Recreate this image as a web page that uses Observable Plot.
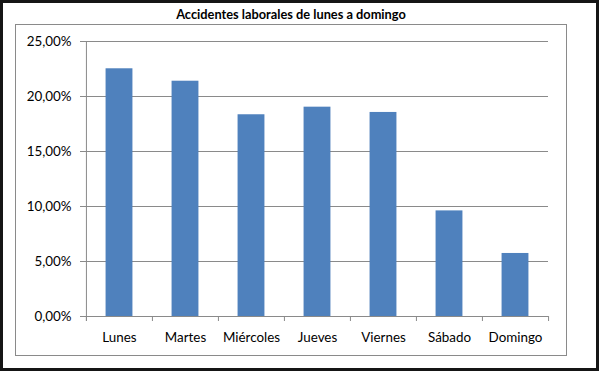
<!DOCTYPE html>
<html><head><meta charset="utf-8">
<script src="https://cdn.jsdelivr.net/npm/d3@7"></script>
<script src="https://cdn.jsdelivr.net/npm/@observablehq/plot@0.6"></script>
<style>
html,body{margin:0;padding:0;background:#fff;}
#wrap{position:relative;width:599px;height:371px;overflow:hidden;font-family:Lato,"Open Sans",sans-serif;}
#wrap svg{position:absolute;left:0;top:0;}
#outer{position:absolute;left:0;top:0;width:593px;height:365px;border:3px solid #151515;pointer-events:none;}
#inner{position:absolute;left:15px;top:24px;width:550px;height:330px;border:1px solid #8a8a8a;pointer-events:none;}
#title{position:absolute;left:15px;width:552px;top:6px;text-align:center;font:bold 12.8px Lato,sans-serif;color:#000;}
</style></head>
<body>
<div id="wrap"><div id="inner"></div><div id="outer"></div><div id="title">Accidentes laborales de lunes a domingo</div></div>
<script>
const days = ["Lunes","Martes","Miércoles","Jueves","Viernes","Sábado","Domingo"];
const values = [22.52, 21.39, 18.34, 19.03, 18.55, 9.6, 5.73];
const yTicks = [0, 5, 10, 15, 20, 25];

const data = days.map((d, i) => ({day: d, value: values[i]}));
const W = 599, H = 371, mL = 85, mR = 51, mT = 41, mB = 55;
const bw = (W - mL - mR) / days.length;
const barW = 27;
const grey = "#8a8a8a";

const chart = Plot.plot({
  width: W, height: H,
  marginLeft: mL, marginRight: mR, marginTop: mT, marginBottom: mB,
  style: {fontFamily: "Lato, 'Open Sans', sans-serif", fontSize: "13.4px", color: "#000", background: "transparent"},
  x: {type: "band", domain: days, padding: 0, label: null},
  y: {domain: [0, 25], label: null},
  marks: [
    Plot.ruleY(yTicks, {stroke: grey, strokeWidth: 1}),
    Plot.barY(data, {x: "day", y: "value", fill: "#4f81bd", insetLeft: (bw - barW) / 2, insetRight: (bw - barW) / 2}),
    Plot.ruleX([days[0]], {x: d => d, dx: -bw / 2, stroke: grey, insetBottom: -5}),
    Plot.ruleX(days, {x: d => d, dx: -bw / 2, stroke: grey, insetTop: H - mT - mB, insetBottom: -5}),
    Plot.ruleX([days[days.length - 1]], {x: d => d, dx: bw / 2, stroke: grey, insetTop: H - mT - mB, insetBottom: -5}),
    Plot.axisY(yTicks, {tickSize: 5, tickPadding: 9, stroke: grey, tickFormat: d => d.toFixed(2).replace(".", ",") + "%", fill: "#000"}),
    Plot.axisX({tickSize: 0, tickPadding: 16, fill: "#000"})
  ]
});
document.getElementById("wrap").prepend(chart);
</script>
</body></html>
